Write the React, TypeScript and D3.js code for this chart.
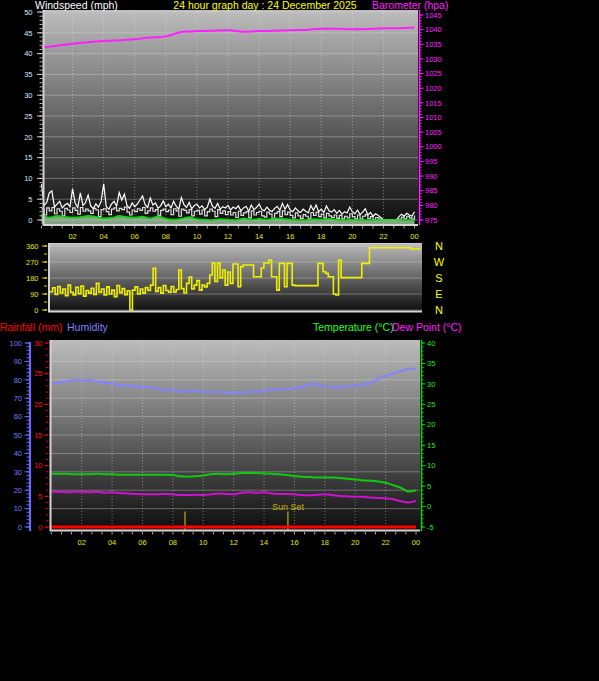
import React, { useRef, useEffect } from "react";
import * as d3 from "d3";

const W = 599;
const H = 681;
const FONT = "'Liberation Sans', Arial, sans-serif";

// wind speed, 10 minute samples (mph)
const windGust = [
  8.7, 3.5, 4.2, 6.5, 7.0, 3.1,
  3.8, 4.5, 2.9, 3.6, 4.0, 3.2,
  7.5, 4.1, 3.0, 6.5, 3.5, 4.2,
  6.0, 3.4, 2.7, 3.9, 3.1, 4.4,
  8.7, 3.2, 2.6, 3.8, 4.5, 3.3,
  6.6, 4.8, 6.2, 3.5, 2.8, 4.1,
  3.2, 3.9, 4.8, 5.8, 3.7, 3.0,
  5.3, 3.6, 4.1, 2.8, 3.4, 4.6,
  3.2, 3.8, 2.9, 4.5, 3.3, 2.6,
  5.4, 3.7, 3.0, 4.2, 2.7, 3.5,
  3.8, 2.9, 3.4, 2.5, 3.1, 5.0,
  3.3, 2.8, 4.0, 2.6, 3.2, 2.9,
  3.5, 2.4, 3.1, 2.7, 3.4, 2.2,
  2.9, 3.3, 2.1, 3.6, 2.5, 3.0,
  3.8, 2.6, 2.2, 3.1, 2.4, 2.0,
  2.8, 3.3, 2.3, 4.0, 2.6, 3.7,
  2.4, 2.0, 2.9, 2.2, 1.8, 2.6,
  2.1, 1.7, 3.5, 2.3, 3.6, 2.0,
  2.6, 1.8, 3.4, 2.2, 1.9, 2.5,
  1.6, 2.3, 1.4, 2.0, 1.7, 3.1,
  2.0, 1.5, 2.4, 1.3, 1.9, 2.7,
  1.2, 1.8, 0.9, 1.5, 1.1, 0.6,
  0, 0, 0, 0, 0, 0,
  0.8, 1.4, 0.9, 1.6, 1.2, 0.9, 2.0,
];
const windSpeed = [
  2.6, 1.2, 2.9, 2.2, 3.0, 1.5,
  2.7, 2.1, 1.0, 2.8, 2.4, 1.8,
  2.9, 2.3, 1.4, 3.0, 2.1, 2.6,
  2.2, 1.6, 2.8, 2.4, 0.8, 2.5,
  2.7, 2.0, 1.3, 2.6, 2.9, 2.2,
  2.8, 2.5, 3.1, 1.9, 1.2, 2.4,
  2.0, 2.7, 2.3, 3.0, 1.6, 2.2,
  2.9, 2.1, 2.5, 1.1, 2.3, 2.6,
  2.0, 2.4, 1.3, 2.7, 2.2, 0.9,
  2.6, 2.3, 1.7, 2.5, 1.0, 2.1,
  2.3, 1.4, 2.4, 1.0, 2.0, 2.6,
  2.1, 0.8, 2.5, 1.6, 2.2, 1.3,
  2.0, 1.2, 1.8, 0.6, 2.1, 1.1,
  1.7, 2.0, 0.5, 2.2, 1.2, 1.8,
  2.1, 1.0, 0.7, 1.9, 1.4, 0.4,
  1.6, 2.0, 0.8, 2.2, 1.3, 1.9,
  1.1, 0.5, 1.7, 1.0, 0.4, 1.3,
  0.9, 0.3, 1.8, 1.1, 1.9, 0.8,
  1.4, 0.5, 1.6, 1.0, 0.6, 1.2,
  0.4, 1.1, 0.3, 0.9, 0.5, 1.5,
  0.8, 0.3, 1.2, 0.2, 0.9, 1.3,
  0.3, 0.8, 0.1, 0.6, 0.2, 0,
  0, 0, 0, 0, 0, 0,
  0.2, 0.7, 0.3, 0.9, 0.5, 0.2, 1.1,
];
// 30 minute average wind (mph)
const windAvg = [
  1.4, 0.6, 1.0, 0.8, 0.6, 0.7, 1.0, 0.8, 0.4, 0.5,
  1.0, 0.7, 0.6, 0.8, 0.4, 0.9, 0.3, 0.1, 0.3, 0.7,
  0.2, 0.1, 0, 0.2, 0.1, 0, 0.4, 0.1, 0.3, 0.1,
  0.4, 0.3, 0.1, 0, 0, 0.2, 0.1, 0.3, 0.1, 0,
  0.1, 0, 0, 0, 0, 0, 0, 0, 0,
];
// wind direction, 10 minute samples (degrees)
const windDir = [
  103, 125, 88, 132, 96, 118,
  80, 140, 100, 85, 128, 92,
  135, 78, 110, 95, 122, 88,
  150, 100, 118, 84, 130, 90,
  112, 75, 138, 98, 120, 86,
  108, 0, 112, 130, 90, 118,
  95, 126, 110, 140, 234, 105,
  126, 95, 138, 110, 100, 132,
  102, 115, 225, 120, 96, 150,
  185, 118, 140, 165, 112, 140,
  130, 150, 197, 264, 160, 264,
  180, 225, 140, 214, 150, 259,
  259, 131, 244, 253, 253, 253,
  253, 187, 187, 187, 236, 264,
  264, 281, 187, 187, 112, 262,
  262, 131, 262, 262, 140, 137,
  137, 137, 137, 137, 137, 137,
  137, 137, 262, 262, 215, 206,
  187, 187, 90, 84, 281, 182,
  182, 182, 182, 182, 182, 182,
  182, 262, 262, 262, 350, 350,
  350, 350, 350, 350, 350, 350,
  350, 350, 350, 350, 350, 350,
  350, 350, 343, 343, 343, 343, 343,
];
// hourly barometer (hPa)
const barometer = [
  1033.9, 1034.5, 1035.2, 1035.7, 1036.1, 1036.4, 1036.7, 1037.3, 1037.7,
  1039.2, 1039.5, 1039.6, 1039.8, 1039.3, 1039.5, 1039.6, 1039.8, 1039.9,
  1040.3, 1040.3, 1040.1, 1040.2, 1040.5, 1040.5, 1040.7,
];
// 30 minute samples
const humidity = [
  78, 78.5, 79, 80, 79.5, 80, 79, 78.5, 78, 77,
  77, 76.5, 76, 76, 75, 74.5, 74.5, 73.5, 74, 74,
  73.5, 73.5, 73.5, 73, 73, 73, 73.5, 73.5, 74, 74.5,
  75, 75, 75.5, 76, 77.5, 77.5, 76.5, 76, 76, 76.5,
  76.8, 77.5, 78, 80.5, 82, 83.5, 84.5, 86, 86,
];
const temperature = [
  8.0, 8.0, 8.0, 7.9, 7.9, 7.9, 8.0, 7.9, 7.9, 7.8,
  7.8, 7.8, 7.8, 7.8, 7.8, 7.8, 7.7, 7.4, 7.3, 7.4,
  7.6, 7.9, 8.0, 7.9, 8.0, 8.2, 8.2, 8.2, 8.1, 8.0,
  7.9, 7.7, 7.5, 7.3, 7.2, 7.1, 7.1, 7.1, 7.0, 6.8,
  6.6, 6.4, 6.3, 6.1, 5.8, 5.2, 4.6, 3.7, 4.0,
];
const dewPoint = [
  3.6, 3.6, 3.5, 3.6, 3.6, 3.5, 3.6, 3.4, 3.5, 3.3,
  3.2, 3.1, 3.0, 3.0, 3.0, 3.1, 3.0, 2.8, 2.8, 2.9,
  2.8, 3.0, 3.2, 3.1, 3.0, 3.4, 3.5, 3.4, 3.5, 3.2,
  3.1, 3.1, 3.0, 2.8, 2.7, 2.9, 3.0, 2.8, 2.6, 2.5,
  2.4, 2.4, 2.2, 2.1, 2.0, 1.8, 1.3, 1.0, 1.4,
];
// hourly rainfall (mm)
const rainfall = [
  0, 0, 0, 0, 0, 0, 0, 0, 0, 0, 0, 0, 0,
  0, 0, 0, 0, 0, 0, 0, 0, 0, 0, 0, 0,
];

const hourLabels = ["02", "04", "06", "08", "10", "12", "14", "16", "18", "20", "22", "00"];
const hourValues = [2, 4, 6, 8, 10, 12, 14, 16, 18, 20, 22, 24];
const windTicks = [0, 5, 10, 15, 20, 25, 30, 35, 40, 45, 50];
const baroTicks = [975, 980, 985, 990, 995, 1000, 1005, 1010, 1015, 1020, 1025, 1030, 1035, 1040, 1045];
const dirTicks = [0, 90, 180, 270, 360];
const compass = [
  { deg: 360, label: "N" },
  { deg: 270, label: "W" },
  { deg: 180, label: "S" },
  { deg: 90, label: "E" },
  { deg: 0, label: "N" },
];
const humTicks = [0, 10, 20, 30, 40, 50, 60, 70, 80, 90, 100];
const rainTicks = [0, 5, 10, 15, 20, 25, 30];
const tempTicks = [-5, 0, 5, 10, 15, 20, 25, 30, 35, 40];
const sunEvents = [
  { hour: 8.8, label: "" },
  { hour: 15.57, label: "Sun Set" },
];

type Pt = { h: number; v: number };
const sampled = (values: number[], step: number): Pt[] =>
  values.map((v, i) => ({ h: i * step, v }));

export default function App() {
  const svgRef = useRef<SVGSVGElement>(null);

  useEffect(() => {
    if (!svgRef.current) return;
    document.body.style.margin = "0";
    document.body.style.background = "#000";

    const svg = d3.select(svgRef.current);
    svg.selectAll("*").remove();
    svg.attr("width", W).attr("height", H).style("display", "block");
    svg.append("rect").attr("width", W).attr("height", H).attr("fill", "#000");

    const defs = svg.append("defs");
    const grad = defs
      .append("linearGradient")
      .attr("id", "shade")
      .attr("x1", 0).attr("y1", 0).attr("x2", 0).attr("y2", 1);
    grad.append("stop").attr("offset", "0%").attr("stop-color", "#bdbdbd");
    grad.append("stop").attr("offset", "100%").attr("stop-color", "#0c0c0c");

    // scales
    const xTop = d3.scaleLinear().domain([0, 24]).range([41.5, 414.5]);
    const yWind = d3.scaleLinear().domain([0, 50]).range([220, 12]);
    const yBaro = d3.scaleLinear().domain([975, 1045]).range([220, 15]);
    const xMid = d3.scaleLinear().domain([0, 24]).range([50, 421]);
    const yDir = d3.scaleLinear().domain([0, 360]).range([310, 246]);
    const xBot = d3.scaleLinear().domain([0, 24]).range([51.3, 416]);
    const yHum = d3.scaleLinear().domain([0, 100]).range([527, 343]);
    const yRain = d3.scaleLinear().domain([0, 30]).range([527, 343]);
    const yTemp = d3.scaleLinear().domain([-5, 40]).range([527, 343]);

    const text = (x: number, y: number, s: string, color: string, size: number, anchor = "start") =>
      svg
        .append("text")
        .attr("x", x)
        .attr("y", y)
        .attr("fill", color)
        .attr("font-size", size)
        .attr("font-family", FONT)
        .attr("text-anchor", anchor)
        .text(s);

    const panel = (x0: number, y0: number, x1: number, y1: number) =>
      svg
        .append("rect")
        .attr("x", x0)
        .attr("y", y0)
        .attr("width", x1 - x0)
        .attr("height", y1 - y0)
        .attr("fill", "url(#shade)");

    const hGrid = (ys: number[], x0: number, x1: number) =>
      svg
        .append("g")
        .selectAll("line")
        .data(ys)
        .join("line")
        .attr("x1", x0).attr("x2", x1)
        .attr("y1", (d) => d).attr("y2", (d) => d)
        .attr("stroke", "rgba(225,225,225,0.35)")
        .attr("stroke-width", 1);

    const vGrid = (xs: number[], y0: number, y1: number) =>
      svg
        .append("g")
        .selectAll("line")
        .data(xs)
        .join("line")
        .attr("x1", (d) => d).attr("x2", (d) => d)
        .attr("y1", y0).attr("y2", y1)
        .attr("stroke", "rgba(230,230,230,0.45)")
        .attr("stroke-dasharray", "1,2")
        .attr("stroke-width", 1);

    const ticks = (ys: number[], xa: number, xb: number, color: string) =>
      svg
        .append("g")
        .selectAll("line")
        .data(ys)
        .join("line")
        .attr("x1", xa).attr("x2", xb)
        .attr("y1", (d) => d).attr("y2", (d) => d)
        .attr("stroke", color)
        .attr("stroke-width", 1);

    const frame = (x0: number, y0: number, x1: number, y1: number) => {
      svg.append("path")
        .attr("d", `M${x0},${y0} V${y1} H${x1}`)
        .attr("fill", "none")
        .attr("stroke", "#d4d4d4")
        .attr("stroke-width", 2);
    };

    // ---------------- top panel: wind + barometer ----------------
    panel(43, 10, 418, 225);
    hGrid(windTicks.map((t) => yWind(t)), 43, 418);
    vGrid(hourValues.slice(0, 11).map((h) => xTop(h)), 10, 225);

    const windArea = d3
      .area<Pt>()
      .x((d) => xTop(d.h))
      .y0(224)
      .y1((d) => yWind(d.v))
      .curve(d3.curveMonotoneX);
    svg.append("path").datum(sampled(windAvg, 0.5)).attr("d", windArea)
      .attr("fill", "#b8e4b8").attr("opacity", 0.7);

    const windLine = d3
      .line<Pt>()
      .x((d) => xTop(d.h))
      .y((d) => yWind(d.v));
    svg.append("path").datum(sampled(windSpeed, 1 / 6)).attr("d", windLine.curve(d3.curveStepAfter))
      .attr("fill", "none").attr("stroke", "#dcdcdc").attr("stroke-width", 1.2);
    svg.append("path").datum(sampled(windGust, 1 / 6)).attr("d", windLine.curve(d3.curveLinear))
      .attr("fill", "none").attr("stroke", "#ffffff").attr("stroke-width", 1.2);

    const avgLine = d3
      .line<Pt>()
      .x((d) => xTop(d.h))
      .y((d) => yWind(d.v))
      .curve(d3.curveMonotoneX);
    svg.append("path").datum(sampled(windAvg, 0.5)).attr("d", avgLine)
      .attr("fill", "none").attr("stroke", "#00d800").attr("stroke-width", 1.6);

    const baroLine = d3
      .line<Pt>()
      .x((d) => xTop(d.h))
      .y((d) => yBaro(d.v))
      .curve(d3.curveMonotoneX);
    svg.append("path").datum(sampled(barometer, 1)).attr("d", baroLine)
      .attr("fill", "none").attr("stroke", "#ff20ff").attr("stroke-width", 2);

    frame(43.5, 10, 418, 225);

    // left wind axis
    ticks(d3.range(0, 51, 1).map((t) => yWind(t)), 39.5, 42.5, "#b8b8b8");
    ticks(windTicks.map((t) => yWind(t)), 37, 42.5, "#d0d0d0");
    windTicks.forEach((t) =>
      text(32.5, yWind(t) + 2.7, String(t), "#dfe7ff", 7.5, "end"));

    // right barometer axis
    svg.append("line").attr("x1", 419.5).attr("x2", 419.5).attr("y1", 10).attr("y2", 225)
      .attr("stroke", "#ff20ff").attr("stroke-width", 1.5);
    ticks(d3.range(975, 1046, 1).map((t) => yBaro(t)), 419, 421.5, "#ff20ff");
    ticks(baroTicks.map((t) => yBaro(t)), 419, 423.5, "#ff20ff");
    baroTicks.forEach((t) =>
      text(425, yBaro(t) + 2.7, String(t), "#ff20ff", 7.5));

    // time axis under the top panel
    svg.append("g").selectAll("line")
      .data(d3.range(0, 24.01, 2 / 3))
      .join("line")
      .attr("x1", (d) => xTop(d)).attr("x2", (d) => xTop(d))
      .attr("y1", 226).attr("y2", 228.5)
      .attr("stroke", "#a8a8a8");
    hourValues.forEach((h, i) =>
      text(xTop(h), 238.5, hourLabels[i], "#e8e800", 7.5, "middle"));

    // titles
    text(35, 8.5, "Windspeed (mph)", "#ffffff", 10.5);
    text(265, 8.5, "24 hour graph day : 24 December 2025", "#ffff00", 10.5, "middle");
    text(372, 8.5, "Barometer (hpa)", "#ff20ff", 10.5);

    // ---------------- middle panel: wind direction ----------------
    panel(48, 243, 422, 312);
    hGrid(dirTicks.map((t) => yDir(t)), 49, 422);
    const dirLine = d3
      .line<Pt>()
      .x((d) => xMid(d.h))
      .y((d) => yDir(d.v))
      .curve(d3.curveStepAfter);
    svg.append("path").datum(sampled(windDir, 1 / 6)).attr("d", dirLine)
      .attr("fill", "none").attr("stroke", "#f0f000").attr("stroke-width", 1.6);
    frame(49, 243, 422, 311.5);
    svg.append("line").attr("x1", 48).attr("x2", 422).attr("y1", 243.5).attr("y2", 243.5)
      .attr("stroke", "#cfcfcf").attr("stroke-width", 1);

    ticks(d3.range(0, 361, 45).map((t) => yDir(t)), 44, 47, "#d8d800");
    ticks(dirTicks.map((t) => yDir(t)), 42, 47, "#e0e000");
    dirTicks.forEach((t) =>
      text(38.5, yDir(t) + 2.7, String(t), "#e8e800", 7.5, "end"));
    compass.forEach((c) =>
      text(439, yDir(c.deg) + 4, c.label, "#ffff00", 11, "middle"));

    // ---------------- bottom panel: rain, humidity, temperature ----------------
    text(0, 330.5, "Rainfall (mm)", "#ff0000", 10.5);
    text(67, 330.5, "Humidity", "#8080ff", 10.5);
    text(313, 330.5, "Temperature (°C)", "#20ff20", 10.5);
    text(392, 330.5, "Dew Point (°C)", "#ff20ff", 10.5);

    panel(50, 340, 420, 531);
    hGrid(humTicks.slice(1, 10).map((t) => yHum(t)), 51, 420);
    vGrid(hourValues.slice(0, 11).map((h) => xBot(h)), 340, 529);

    const botLine = (y: d3.ScaleLinear<number, number>) =>
      d3
        .line<Pt>()
        .x((d) => xBot(d.h))
        .y((d) => y(d.v))
        .curve(d3.curveMonotoneX);

    svg.append("path").datum(sampled(humidity, 0.5)).attr("d", botLine(yHum))
      .attr("fill", "none").attr("stroke", "#8484ff").attr("stroke-width", 2.2);
    svg.append("path").datum(sampled(temperature, 0.5)).attr("d", botLine(yTemp))
      .attr("fill", "none").attr("stroke", "#10c810").attr("stroke-width", 2);
    svg.append("path").datum(sampled(dewPoint, 0.5)).attr("d", botLine(yTemp))
      .attr("fill", "none").attr("stroke", "#d010d0").attr("stroke-width", 2);

    sunEvents.forEach((s) => {
      svg.append("line")
        .attr("x1", xBot(s.hour)).attr("x2", xBot(s.hour))
        .attr("y1", 511.5).attr("y2", 531)
        .attr("stroke", "#b8a400").attr("stroke-width", 1.3);
      if (s.label) text(xBot(s.hour), 510, s.label, "#c8b400", 9, "middle");
    });

    svg.append("path").datum(sampled(rainfall, 1)).attr("d", botLine(yRain).curve(d3.curveLinear))
      .attr("fill", "none").attr("stroke", "#ff0000").attr("stroke-width", 3);

    frame(50.5, 340, 420, 530.5);

    // humidity axis (blue)
    svg.append("line").attr("x1", 30).attr("x2", 30).attr("y1", 342).attr("y2", 531)
      .attr("stroke", "#6a6aff").attr("stroke-width", 2.2);
    ticks(d3.range(0, 101, 2).map((t) => yHum(t)), 26.5, 29, "#6a6aff");
    ticks(humTicks.map((t) => yHum(t)), 24.5, 29, "#6a6aff");
    humTicks.forEach((t) =>
      text(22, yHum(t) + 2.7, String(t), "#6f7fff", 7.5, "end"));

    // rain axis (red)
    ticks(d3.range(0, 31, 1).map((t) => yRain(t)), 46, 48.5, "#e00000");
    ticks(rainTicks.map((t) => yRain(t)), 44.5, 48.5, "#ff0000");
    rainTicks.forEach((t) =>
      text(42.5, yRain(t) + 2.7, String(t), "#ff1010", 7.5, "end"));

    // temperature axis (green)
    svg.append("line").attr("x1", 421.5).attr("x2", 421.5).attr("y1", 340).attr("y2", 531)
      .attr("stroke", "#10d010").attr("stroke-width", 1.5);
    ticks(d3.range(-5, 41, 1).map((t) => yTemp(t)), 421, 423.5, "#10d010");
    ticks(tempTicks.map((t) => yTemp(t)), 421, 425.5, "#10d010");
    tempTicks.forEach((t) =>
      text(427, yTemp(t) + 2.7, String(t), "#20e820", 7.5));

    // time axis under the bottom panel
    svg.append("g").selectAll("line")
      .data(d3.range(0, 24.01, 2 / 3))
      .join("line")
      .attr("x1", (d) => xBot(d)).attr("x2", (d) => xBot(d))
      .attr("y1", 532).attr("y2", 534.5)
      .attr("stroke", "#a8a8a8");
    hourValues.forEach((h, i) =>
      text(xBot(h), 545, hourLabels[i], "#e8e800", 7.5, "middle"));
  }, []);

  return <svg ref={svgRef}></svg>;
}
